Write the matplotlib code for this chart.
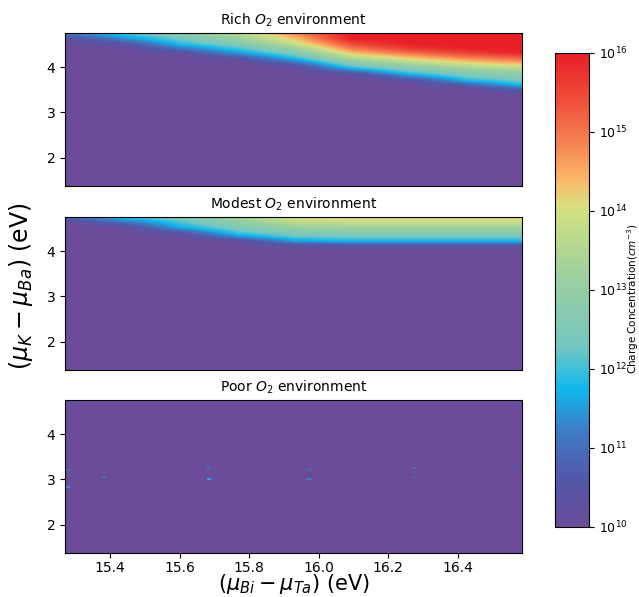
import numpy as np
import matplotlib
matplotlib.use("Agg")
import matplotlib.pyplot as plt
from matplotlib.colors import LinearSegmentedColormap, LogNorm, Normalize
from matplotlib.cm import ScalarMappable

# uniform grid nodes (eV) for the two upper panels
x_nodes = [15.27, 15.435, 15.60, 15.765, 15.93, 16.095, 16.26, 16.425, 16.59]
y_nodes = [3.3, 3.4, 3.5, 3.6, 3.7, 3.8, 3.9, 4.0, 4.1, 4.2, 4.3, 4.4, 4.5, 4.6, 4.7, 4.8]
floor_log = 10          # log10 of background concentration
y_floor_from = 1.3      # floor rows continue down to here

# Rich O2: log10 concentration, one profile per x node (bottom -> top)
rich_cols = [
    [10, 10, 10, 10, 10, 10, 10, 10, 10, 10, 10, 10, 10, 10.3, 11.0, 11.8],
    [10, 10, 10, 10, 10, 10, 10, 10, 10, 10, 10, 10, 10.5, 11.3, 11.9, 12.7],
    [10, 10, 10, 10, 10, 10, 10, 10, 10, 10, 10.4, 11.2, 11.9, 12.3, 12.7, 13.3],
    [10, 10, 10, 10, 10, 10, 10, 10, 10, 10.7, 11.5, 12.1, 12.6, 13.1, 13.5, 14.1],
    [10, 10, 10, 10, 10, 10, 10, 10.3, 11.2, 12.0, 12.6, 13.2, 13.9, 14.3, 14.7, 15.1],
    [10, 10, 10, 10, 10, 10.1, 11.2, 12.2, 12.9, 13.7, 14.4, 15.0, 15.5, 16, 16, 16],
    [10, 10, 10, 10, 10.4, 11.5, 12.3, 12.9, 13.7, 14.4, 15.1, 15.7, 16, 16, 16, 16],
    [10, 10, 10, 10.9, 11.85, 12.4, 12.9, 13.6, 14.3, 15.0, 15.6, 16, 16, 16, 16, 16],
    [10, 10.1, 11.0, 11.9, 12.4, 12.8, 13.3, 14.0, 14.7, 15.3, 16, 16, 16, 16, 16, 16],
]

# Modest O2
modest_cols = [
    [10, 10, 10, 10, 10, 10, 10, 10, 10, 10, 10, 10, 10, 10, 10.7, 11.7],
    [10, 10, 10, 10, 10, 10, 10, 10, 10, 10, 10, 10, 10.1, 10.9, 11.75, 11.95],
    [10, 10, 10, 10, 10, 10, 10, 10, 10, 10, 10, 10.7, 11.65, 12.0, 12.4, 12.8],
    [10, 10, 10, 10, 10, 10, 10, 10, 10, 10.2, 11.4, 12.1, 12.5, 12.9, 13.2, 13.6],
    [10, 10, 10, 10, 10, 10, 10, 10, 10.4, 11.5, 12.2, 12.7, 13.1, 13.6, 14.1, 14.6],
    [10, 10, 10, 10, 10, 10, 10, 10, 10.5, 11.75, 12.3, 12.8, 13.2, 13.7, 14.2, 15.4],
    [10, 10, 10, 10, 10, 10, 10, 10, 10.5, 11.75, 12.3, 12.8, 13.2, 13.7, 14.2, 15.4],
    [10, 10, 10, 10, 10, 10, 10, 10, 10.5, 11.75, 12.3, 12.8, 13.2, 13.7, 14.2, 15.4],
    [10, 10, 10, 10, 10, 10, 10, 10, 10.5, 11.75, 12.3, 12.8, 13.2, 13.7, 14.2, 15.4],
]

# Poor O2: background 1e10 with a few isolated spots
spot_x = [15.279, 15.279, 15.279, 15.385, 15.684, 15.684, 15.684, 15.975, 15.975, 16.277, 16.277, 16.565]
spot_y = [3.21, 3.08, 2.84, 3.03, 3.25, 3.21, 3.00, 3.21, 3.00, 3.25, 3.06, 3.25]
spot_v = [10.9, 10.9, 11.4, 11.0, 10.9, 10.8, 11.6, 10.8, 11.2, 11.0, 10.8, 10.5]

x_lim = (15.27, 16.585)
y_lim = (1.38, 4.75)

colors = [
    (0.00, "#6b4c9a"), (0.10, "#5258a8"), (0.20, "#3f7ac4"), (0.29, "#0fb8ee"),
    (0.38, "#74c7c2"), (0.52, "#9acfa1"), (0.65, "#cadf85"), (0.68, "#dadf7f"),
    (0.73, "#fbb96a"), (0.80, "#f68a55"), (0.90, "#ef4f3a"), (1.00, "#e81f27"),
]
cmap = LinearSegmentedColormap.from_list("charge", colors)
lognorm = Normalize(vmin=10, vmax=16)   # images work on log10 values

fig = plt.figure(figsize=(6.39, 5.97), dpi=100)
axes = [
    fig.add_axes([0.1017, 0.6884, 0.7152, 0.2563]),
    fig.add_axes([0.1017, 0.3802, 0.7152, 0.2563]),
    fig.add_axes([0.1017, 0.0737, 0.7152, 0.2563]),
]

dx = x_nodes[1] - x_nodes[0]
dy = y_nodes[1] - y_nodes[0]
n_floor = int(round((y_nodes[0] - y_floor_from) / dy))
for ax, cols in [(axes[0], rich_cols), (axes[1], modest_cols)]:
    Z = np.array(cols, dtype=float).T
    Z = np.vstack([np.full((n_floor, Z.shape[1]), float(floor_log)), Z])
    y0 = y_nodes[0] - n_floor * dy
    ax.imshow(Z, origin="lower", aspect="auto", cmap=cmap, norm=lognorm,
              interpolation="bilinear", interpolation_stage="data",
              extent=(x_nodes[0] - dx / 2, x_nodes[-1] + dx / 2,
                      y0 - dy / 2, y_nodes[-1] + dy / 2))

# poor panel on a fine grid
nx, ny = 100, 80
xe = np.linspace(x_lim[0], x_lim[1], nx + 1)
ye = np.linspace(y_lim[0], y_lim[1], ny + 1)
Zp = np.full((ny, nx), float(floor_log))
for sx, sy, sv in zip(spot_x, spot_y, spot_v):
    i = min(np.searchsorted(xe, sx) - 1, nx - 1)
    j = min(np.searchsorted(ye, sy) - 1, ny - 1)
    Zp[j, i] = sv
axes[2].pcolormesh(xe, ye, Zp, cmap=cmap, norm=lognorm, shading="flat")

titles = ["Rich $O_2$ environment", "Modest $O_2$ environment", "Poor $O_2$ environment"]
for ax, t in zip(axes, titles):
    ax.set_xlim(*x_lim)
    ax.set_ylim(*y_lim)
    ax.set_yticks([2, 3, 4])
    ax.set_title(t, fontsize=10)
    ax.tick_params(labelsize=10)
for ax in axes[:2]:
    ax.set_xticks([])
axes[2].set_xticks([15.4, 15.6, 15.8, 16.0, 16.2, 16.4])
axes[2].tick_params(axis="x", pad=2)

fig.text(0.033, 0.52, r"$(\mu_K - \mu_{Ba})$ (eV)", rotation=90, fontsize=17,
         ha="center", va="center")
fig.text(0.46, 0.002, r"$(\mu_{Bi} - \mu_{Ta})$ (eV)", fontsize=15,
         ha="center", va="bottom")

cax = fig.add_axes([0.8685, 0.1173, 0.0532, 0.794])
sm = ScalarMappable(norm=LogNorm(vmin=1e10, vmax=1e16), cmap=cmap)
cb = fig.colorbar(sm, cax=cax)
cb.ax.minorticks_off()
cb.ax.tick_params(labelsize=9)
fig.text(0.99, 0.5, "Charge Concentration($cm^{-3}$)", rotation=90, fontsize=7.5,
         ha="center", va="center")

fig.savefig("out.png", dpi=100)
